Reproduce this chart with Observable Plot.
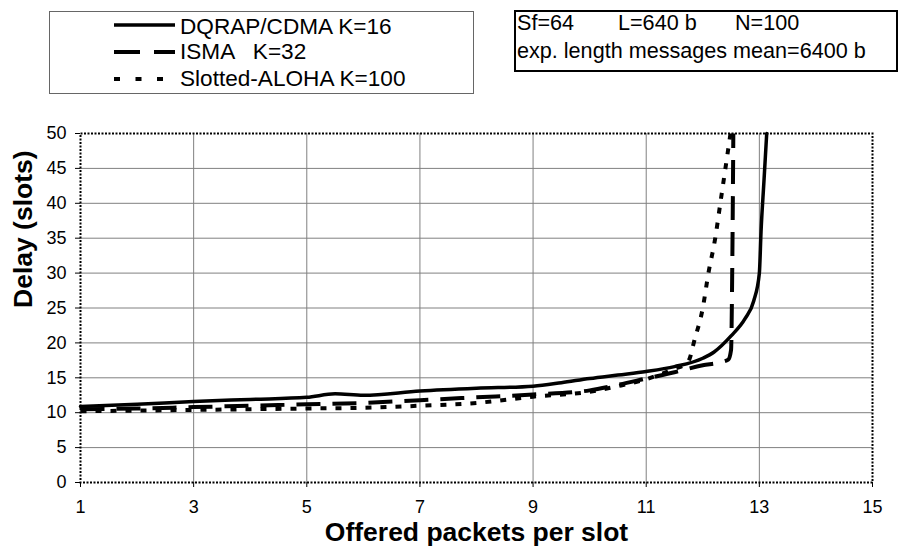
<!DOCTYPE html>
<html>
<head>
<meta charset="utf-8">
<script src="https://cdn.jsdelivr.net/npm/d3@7"></script>
<script src="https://cdn.jsdelivr.net/npm/@observablehq/plot@0.6"></script>
<style>
  html, body { margin: 0; padding: 0; background: #fff; }
  #page { position: relative; width: 900px; height: 555px; font-family: "Liberation Sans", Arial, sans-serif; color: #000; overflow: hidden; }
  #head { position: relative; width: 900px; height: 100px; }
  .abs { position: absolute; white-space: pre; line-height: 1; }
  #chart svg { display: block; }
</style>
</head>
<body>
<div id="page">
  <div id="head"></div>
  <div id="chart"></div>
</div>
<script>
// ---- data ----
const seriesNames = ["DQRAP/CDMA K=16", "ISMA   K=32", "Slotted-ALOHA K=100"];
const infoLine1 = ["Sf=64", "L=640 b", "N=100"];
const infoLine2 = "exp. length messages mean=6400 b";

const dqrapX = [1, 2, 3, 4, 5, 5.5, 6, 7, 8, 9, 9.5, 10, 10.5, 11, 11.5, 12, 12.2, 12.5, 12.75, 12.9, 13.0, 13.03, 13.08, 13.13];
const dqrapY = [10.9, 11.2, 11.6, 11.9, 12.2, 12.7, 12.5, 13.1, 13.5, 13.8, 14.3, 14.9, 15.4, 15.9, 16.6, 17.8, 18.7, 21, 23.5, 26, 30, 36, 43, 50];

const ismaX = [1, 2, 3, 4, 5, 6, 7, 8, 9, 10, 10.5, 11, 11.5, 12, 12.3, 12.45, 12.5, 12.52, 12.54];
const ismaY = [10.5, 10.6, 10.8, 11.0, 11.2, 11.4, 11.8, 12.2, 12.6, 13.2, 14.0, 14.9, 15.8, 16.8, 17.2, 17.6, 19, 30, 50];

const slottedX = [1, 2, 3, 4, 5, 6, 7, 8, 9, 10, 10.5, 11, 11.5, 11.7, 11.77, 11.84, 12.0, 12.1, 12.22, 12.31, 12.4, 12.49];
const slottedY = [10.2, 10.3, 10.4, 10.5, 10.6, 10.7, 11.0, 11.4, 12.3, 13.0, 13.8, 14.8, 16.3, 17.0, 17.8, 20, 25, 30, 35, 40, 45, 50];

const xTicks = [1, 3, 5, 7, 9, 11, 13, 15];
const xGridTicks = [3, 5, 7, 9, 11, 13];
const yTicks = [0, 5, 10, 15, 20, 25, 30, 35, 40, 45, 50];
const yGridTicks = [5, 10, 15, 20, 25, 30, 35, 40, 45];
const xTitle = "Offered packets per slot";
const yTitle = "Delay (slots)";

// ---- styles ----
const styles = [
  {width: 3.5, dash: null, legendDash: null, legendLen: 61},
  {width: 4, dash: "24,12", legendDash: "26,14", legendLen: 61},
  {width: 4, dash: "6,9", legendDash: "6,15.5", legendLen: 50}
];

const toRows = (xs, ys) => xs.map((x, i) => ({x, y: ys[i]}));
const dq = toRows(dqrapX, dqrapY);
const isma = toRows(ismaX, ismaY);
const slotted = toRows(slottedX, slottedY);

// ---- header: legend box + info box ----
const head = document.getElementById("head");
function addDiv(css, text) {
  const d = document.createElement("div");
  d.className = "abs";
  Object.assign(d.style, css);
  if (text != null) d.textContent = text;
  head.appendChild(d);
  return d;
}
addDiv({left: "49px", top: "11px", width: "425px", height: "83px", border: "1px solid #666", boxSizing: "border-box"});
const rowCenters = [25, 52, 79];
const NS = "http://www.w3.org/2000/svg";
seriesNames.forEach((name, i) => {
  const svg = document.createElementNS(NS, "svg");
  svg.setAttribute("width", 64);
  svg.setAttribute("height", 10);
  svg.style.position = "absolute";
  svg.style.left = "114px";
  svg.style.top = (rowCenters[i] - 5) + "px";
  const ln = document.createElementNS(NS, "line");
  ln.setAttribute("x1", 0); ln.setAttribute("x2", styles[i].legendLen);
  ln.setAttribute("y1", 5); ln.setAttribute("y2", 5);
  ln.setAttribute("stroke", "#000");
  ln.setAttribute("stroke-width", styles[i].width);
  if (styles[i].legendDash) ln.setAttribute("stroke-dasharray", styles[i].legendDash);
  svg.appendChild(ln);
  head.appendChild(svg);
  addDiv({left: "180px", top: (rowCenters[i] - 11 + (i === 0 ? 1.5 : 0)) + "px", fontSize: "22.6px"}, name);
});
addDiv({left: "514px", top: "10px", width: "384px", height: "62px", border: "2px solid #000", boxSizing: "border-box"});
const infoX = [517, 618, 735];
infoLine1.forEach((t, i) => addDiv({left: infoX[i] + "px", top: "12px", fontSize: "21.6px"}, t));
addDiv({left: "517px", top: "40px", fontSize: "21.6px"}, infoLine2);

// ---- chart ----
const chart = Plot.plot({
  width: 900,
  height: 455,
  marginTop: 33,
  marginBottom: 73,
  marginLeft: 80,
  marginRight: 28,
  x: {domain: [1, 15]},
  y: {domain: [0, 50]},
  style: {fontFamily: "'Liberation Sans', Arial, sans-serif", fontSize: "18px", color: "#000", background: "#fff", overflow: "visible"},
  marks: [
    Plot.gridY(yGridTicks, {stroke: "#808080", strokeOpacity: 1, strokeWidth: 1}),
    Plot.gridX(xGridTicks, {stroke: "#808080", strokeOpacity: 1, strokeWidth: 1}),
    Plot.frame({stroke: "#000", strokeWidth: 2, strokeDasharray: "2,1.5"}),
    Plot.axisX(xTicks, {tickSize: 5, tickPadding: 13, label: null, fontSize: 18}),
    Plot.axisY(yTicks, {tickSize: 5, tickPadding: 9, label: null, fontSize: 18}),
    Plot.line(slotted, {x: "x", y: "y", stroke: "#000", strokeWidth: styles[2].width, strokeDasharray: styles[2].dash, curve: "monotone-x", strokeLinecap: "butt"}),
    Plot.line(isma, {x: "x", y: "y", stroke: "#000", strokeWidth: styles[1].width, strokeDasharray: styles[1].dash, curve: "monotone-x", strokeLinecap: "butt"}),
    Plot.line(dq, {x: "x", y: "y", stroke: "#000", strokeWidth: styles[0].width, curve: "monotone-x"}),
    Plot.text([yTitle], {frameAnchor: "left", dx: -57, rotate: -90, fontWeight: "bold", fontSize: 26.5, fill: "#000"}),
    Plot.text([xTitle], {frameAnchor: "bottom", dy: 58, fontWeight: "bold", fontSize: 26.5, fill: "#000"})
  ]
});
document.getElementById("chart").appendChild(chart);
</script>
</body>
</html>
